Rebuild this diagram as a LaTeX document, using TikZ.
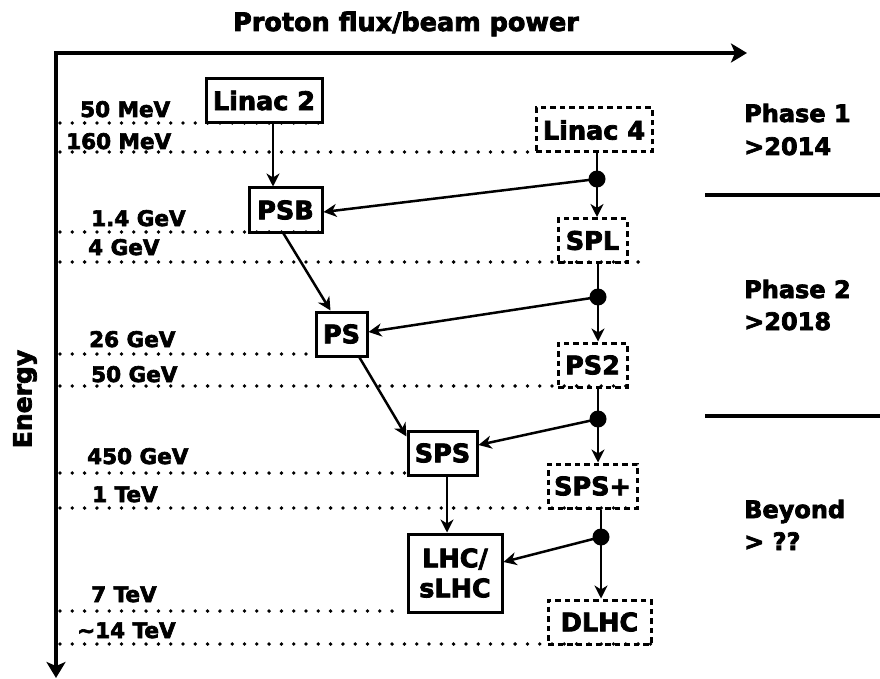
\documentclass[tikz,border=0pt]{standalone}
\usepackage{fontspec}
\setmainfont{DejaVu Sans}[BoldFeatures={FakeBold=3}]
\usetikzlibrary{arrows.meta}
\begin{document}
\begin{tikzpicture}[x=1pt,y=-1pt,
  every node/.style={font=\bfseries},
  lbl/.style={anchor=base west,inner sep=0pt,font=\fontsize{21.5}{24}\selectfont\bfseries},
  side/.style={anchor=base west,inner sep=0pt,font=\fontsize{24}{28}\selectfont\bfseries},
  boxs/.style={draw,line width=3pt,inner sep=0pt,minimum width=#1,minimum height=44pt,font=\fontsize{25.5}{30}\selectfont\bfseries,align=center},
  boxd/.style={boxs=#1,dash pattern=on 5.5pt off 4pt},
  axis/.style={line width=4pt,-{Stealth[length=16pt,width=19pt,inset=4pt]}},
  conn/.style={line width=2.5pt,-{Stealth[length=13pt,width=13pt,inset=4pt]}},
  seg/.style={line width=2.5pt},
  dotl/.style={line width=3.8pt,line cap=round,dash pattern=on 0pt off 12.3pt},
  junc/.style={circle,fill=black,inner sep=0pt,minimum size=17pt}
]
\useasboundingbox (0,0) rectangle (880,679);

% axes
\coordinate (O) at (56,53);
\coordinate (Xend) at (747,53);
\coordinate (Yend) at (56,678);
\draw[axis] ([xshift=-2pt]O) -- (Xend);
\draw[axis] (O) -- (Yend);
\node[anchor=base,inner sep=0pt,font=\fontsize{25.5}{30}\selectfont\bfseries] (title) at (406,31) {Proton flux/beam power};
\node[rotate=90,inner sep=0pt,font=\fontsize{25}{30}\selectfont\bfseries] (energy) at (25,399) {Energy};

% boxes
\node[boxs=116pt] (linac2) at (264,100.5) {Linac 2};
\node[boxs=73pt] (psb) at (285.5,210) {PSB};
\node[boxs=51pt] (ps) at (341.5,334) {PS};
\node[boxs=69pt] (sps) at (442.5,453) {SPS};
\node[boxs=94pt,minimum height=78pt] (lhc) at (455,573) {LHC/\\sLHC};
\node[boxd=116pt] (linac4) at (594,130) {Linac 4};
\node[boxd=69pt] (spl) at (592.5,240.5) {SPL};
\node[boxd=69pt] (ps2) at (592.5,365) {PS2};
\node[boxd=89pt] (spsp) at (592.5,486) {SPS+};
\node[boxd=103pt] (dlhc) at (599.5,622) {DLHC};

% dotted energy levels
\draw[dotl] (60,123) -- (322,123);
\draw[dotl] (60,152) -- (536,152);
\draw[dotl] (60,232) -- (322,232);
\draw[dotl] (60,262) -- (643,262);
\draw[dotl] (60,354) -- (318,354);
\draw[dotl] (60,386) -- (627,386);
\draw[dotl] (60,473) -- (408,473);
\draw[dotl] (60,508) -- (637,508);
\draw[dotl] (60,611) -- (395,611);
\draw[dotl] (60,644) -- (651,644);

% energy labels
\node[lbl] (l1) at (80,117) {50 MeV};
\node[lbl] (l2) at (66,149) {160 MeV};
\node[lbl] (l3) at (91,226) {1.4 GeV};
\node[lbl] (l4) at (88,255) {4 GeV};
\node[lbl] (l5) at (89,347) {26 GeV};
\node[lbl] (l6) at (91,382) {50 GeV};
\node[lbl] (l7) at (87,464) {450 GeV};
\node[lbl] (l8) at (92,502) {1 TeV};
\node[lbl] (l9) at (91,602) {7 TeV};
\node[lbl] (l10) at (77,638) {\textasciitilde 14 TeV};

% junctions
\node[junc] (j1) at (597,179) {};
\node[junc] (j2) at (598,297) {};
\node[junc] (j3) at (598,419) {};
\node[junc] (j4) at (601,537) {};

% right column
\node[side] (p1a) at (744,122) {Phase 1};
\node[side] (p1b) at (744,155) {>2014};
\node[side] (p2a) at (744,298) {Phase 2};
\node[side] (p2b) at (744,330) {>2018};
\node[side] (p3a) at (744,518) {Beyond};
\node[side] (p3b) at (744,550) {> ??};
\coordinate (s1a) at (705,195); \coordinate (s1b) at (880,195);
\coordinate (s2a) at (705,416); \coordinate (s2b) at (880,416);
\draw[line width=4pt] (s1a) -- (s1b);
\draw[line width=4pt] (s2a) -- (s2b);

% main chain
\draw[conn] ([xshift=9pt]linac2.south) -- ([xshift=9pt]linac2.south |- psb.north);
\draw[conn] ([xshift=-2pt]psb.south) -- ([xshift=-11pt]ps.north);
\draw[conn] ([xshift=18pt]ps.south) -- ([yshift=-7pt]sps.north west);
\draw[conn] ([xshift=4.5pt]sps.south) -- ([xshift=4.5pt]sps.south |- lhc.north);

% upgrade chain
\draw[seg] (j1 |- linac4.south) -- (j1.center);
\draw[conn] (j1.center) -- (j1 |- spl.north);
\draw[seg] (j2 |- spl.south) -- (j2.center);
\draw[conn] (j2.center) -- (j2 |- ps2.north);
\draw[seg] (j3 |- ps2.south) -- (j3.center);
\draw[conn] (j3.center) -- (j3 |- spsp.north);
\draw[seg] (j4 |- spsp.south) -- (j4.center);
\draw[conn] (j4.center) -- (j4 |- dlhc.north);

% injections
\draw[conn] (j1.center) -- ([yshift=-2pt]psb.east);
\draw[conn] (j2.center) -- ([yshift=2pt]ps.east);
\draw[conn] (j3.center) -- ([yshift=8pt]sps.east);
\draw[conn] (j4.center) -- ([yshift=11pt]lhc.east);
\end{tikzpicture}
\end{document}
